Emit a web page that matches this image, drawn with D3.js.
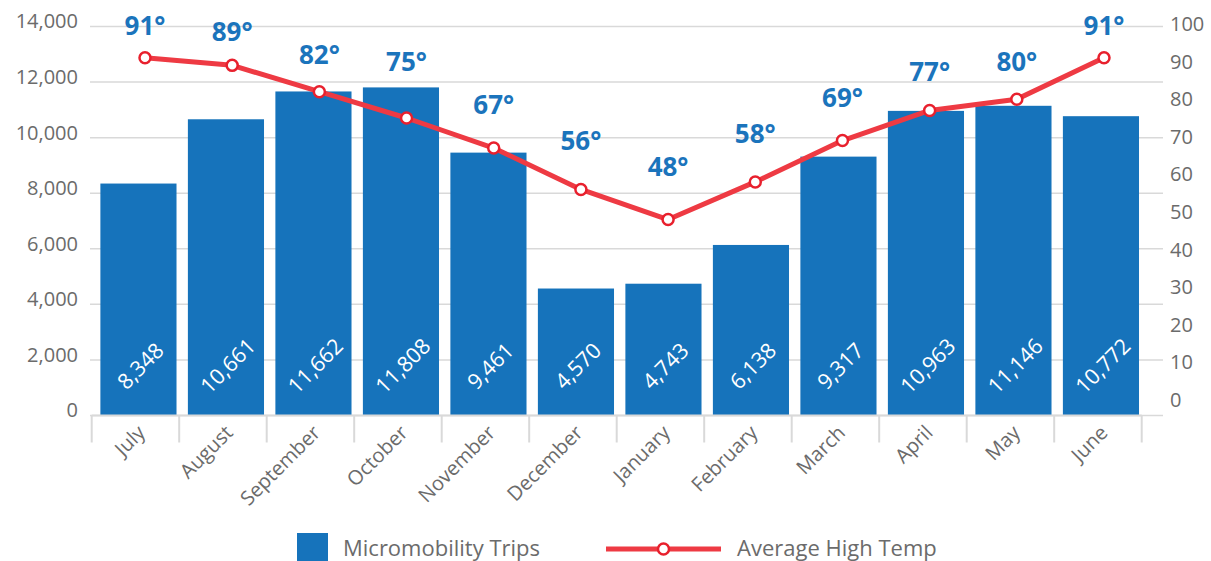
<!DOCTYPE html>
<html>
<head>
<meta charset="utf-8">
<script src="https://cdn.jsdelivr.net/npm/d3@7"></script>
<style>
  html, body { margin: 0; padding: 0; background: #fff; }
  svg { display: block; font-family: "Open Sans", sans-serif; }
</style>
</head>
<body>
<svg id="chart" width="1211" height="561"></svg>
<script>
// Monthly micromobility trips vs. average high temperature
const months = ["July", "August", "September", "October", "November", "December",
                "January", "February", "March", "April", "May", "June"];
const trips = [8348, 10661, 11662, 11808, 9461, 4570, 4743, 6138, 9317, 10963, 11146, 10772];
const highTemp = [91, 89, 82, 75, 67, 56, 48, 58, 69, 77, 80, 91];
const tripTicks = [0, 2000, 4000, 6000, 8000, 10000, 12000, 14000];
const tempTicks = [0, 10, 20, 30, 40, 50, 60, 70, 80, 90, 100];
const legendLabels = ["Micromobility Trips", "Average High Temp"];

const BLUE = "#1673bb";
const LABEL_BLUE = "#1b74bc";
const RED = "#ee3a43";
const GRID = "#d9d9d9";
const TEXT = "#6b6b6b";

const svg = d3.select("#chart");
svg.append("rect").attr("width", 1211).attr("height", 561).attr("fill", "#fff");

const data = months.map((m, i) => ({ month: m, trips: trips[i], temp: highTemp[i] }));

// Scales
const x = d3.scaleBand().domain(months).range([91.7, 1141.7]).paddingInner(0.13).paddingOuter(0.065);
const xEdge = d3.scaleBand().domain(months).range([91.7, 1141.7]);
const xPt = d3.scalePoint().domain(months).range([145, 1104]);
const y = d3.scaleLinear().domain([0, 14000]).range([415.5, 26.5]);
const y2 = d3.scaleLinear().domain([0, 100]).range([400, 24]);
const yLabel = d3.scaleLinear().domain([0, 100]).range([334, 5]);
const barShift = 3;

// Horizontal gridlines
svg.append("g")
  .selectAll("line")
  .data(tripTicks)
  .join("line")
  .attr("x1", 90).attr("x2", 1163)
  .attr("y1", d => y(d)).attr("y2", d => y(d))
  .attr("stroke", GRID).attr("stroke-width", 1.5);

// Left axis
const leftAxis = svg.append("g")
  .attr("transform", "translate(78,0)")
  .call(d3.axisLeft(y).tickValues(tripTicks).tickSize(0).tickPadding(0).tickFormat(d3.format(",")));
leftAxis.select(".domain").remove();
leftAxis.selectAll("text")
  .attr("fill", TEXT).attr("font-size", 20)
  .attr("font-family", "Open Sans, sans-serif")
  .attr("dy", "0.32em")
  .attr("y", -5);

// Right axis
const rightAxis = svg.append("g")
  .attr("transform", "translate(1170,0)")
  .call(d3.axisRight(y2).tickValues(tempTicks).tickSize(0).tickPadding(0));
rightAxis.select(".domain").remove();
rightAxis.selectAll("text")
  .attr("fill", TEXT).attr("font-size", 20)
  .attr("font-family", "Open Sans, sans-serif")
  .attr("dy", "0.32em");

// Bars
svg.append("g")
  .selectAll("rect")
  .data(data)
  .join("rect")
  .attr("x", d => x(d.month) + barShift)
  .attr("width", x.bandwidth())
  .attr("y", d => y(d.trips))
  .attr("height", d => y(0) - y(d.trips))
  .attr("fill", BLUE);

// Bar value labels
svg.append("g")
  .selectAll("text")
  .data(data)
  .join("text")
  .attr("transform", d => `translate(${x(d.month) + barShift + x.bandwidth() / 2 + 2},366) rotate(-45)`)
  .attr("text-anchor", "middle")
  .attr("dy", "0.35em")
  .attr("fill", "#fff")
  .attr("font-size", 21.5)
  .text(d => d3.format(",")(d.trips));

// X axis baseline and band-edge ticks
const xAxis = svg.append("g").attr("transform", `translate(0,${y(0)})`);
xAxis.append("line")
  .attr("x1", 91.7).attr("x2", 1141.7)
  .attr("stroke", GRID).attr("stroke-width", 2);
const edges = months.map(m => xEdge(m)).concat([xEdge.range()[1]]);
xAxis.selectAll("line.tick")
  .data(edges)
  .join("line")
  .attr("class", "tick")
  .attr("x1", d => d).attr("x2", d => d)
  .attr("y1", 0).attr("y2", 27)
  .attr("stroke", GRID).attr("stroke-width", 2);

// Month labels
svg.append("g")
  .selectAll("text")
  .data(months)
  .join("text")
  .attr("transform", m => `translate(${xEdge(m) + xEdge.bandwidth() / 2 + 11},434) rotate(-45)`)
  .attr("text-anchor", "end")
  .attr("fill", TEXT)
  .attr("font-size", 20)
  .text(m => m);

// Temperature line
const line = d3.line().x(d => xPt(d.month)).y(d => y2(d.temp));
svg.append("path")
  .datum(data)
  .attr("d", line)
  .attr("fill", "none")
  .attr("stroke", RED)
  .attr("stroke-width", 5)
  .attr("stroke-linejoin", "round");

svg.append("g")
  .selectAll("circle")
  .data(data)
  .join("circle")
  .attr("cx", d => xPt(d.month))
  .attr("cy", d => y2(d.temp))
  .attr("r", 5.5)
  .attr("fill", "#fff")
  .attr("stroke", "#e8202d")
  .attr("stroke-width", 2.5);

// Temperature labels, kept clear of the bar below them
svg.append("g")
  .selectAll("text")
  .data(data)
  .join("text")
  .attr("x", d => xPt(d.month))
  .attr("y", d => Math.min(yLabel(d.temp), y(d.trips) - 16))
  .attr("text-anchor", "middle")
  .attr("fill", LABEL_BLUE)
  .attr("font-size", 26)
  .attr("font-weight", 700)
  .text(d => d.temp + "°");

// Legend
const legend = svg.append("g");
legend.append("rect")
  .attr("x", 297).attr("y", 533).attr("width", 31).attr("height", 31)
  .attr("fill", BLUE);
legend.append("text")
  .attr("x", 343).attr("y", 556)
  .attr("fill", TEXT).attr("font-size", 22)
  .text(legendLabels[0]);
legend.append("line")
  .attr("x1", 606).attr("x2", 721).attr("y1", 549).attr("y2", 549)
  .attr("stroke", RED).attr("stroke-width", 5);
legend.append("circle")
  .attr("cx", 663.5).attr("cy", 549).attr("r", 5.5)
  .attr("fill", "#fff").attr("stroke", "#e8202d").attr("stroke-width", 2.5);
legend.append("text")
  .attr("x", 737).attr("y", 556)
  .attr("fill", TEXT).attr("font-size", 22)
  .text(legendLabels[1]);
</script>
</body>
</html>
